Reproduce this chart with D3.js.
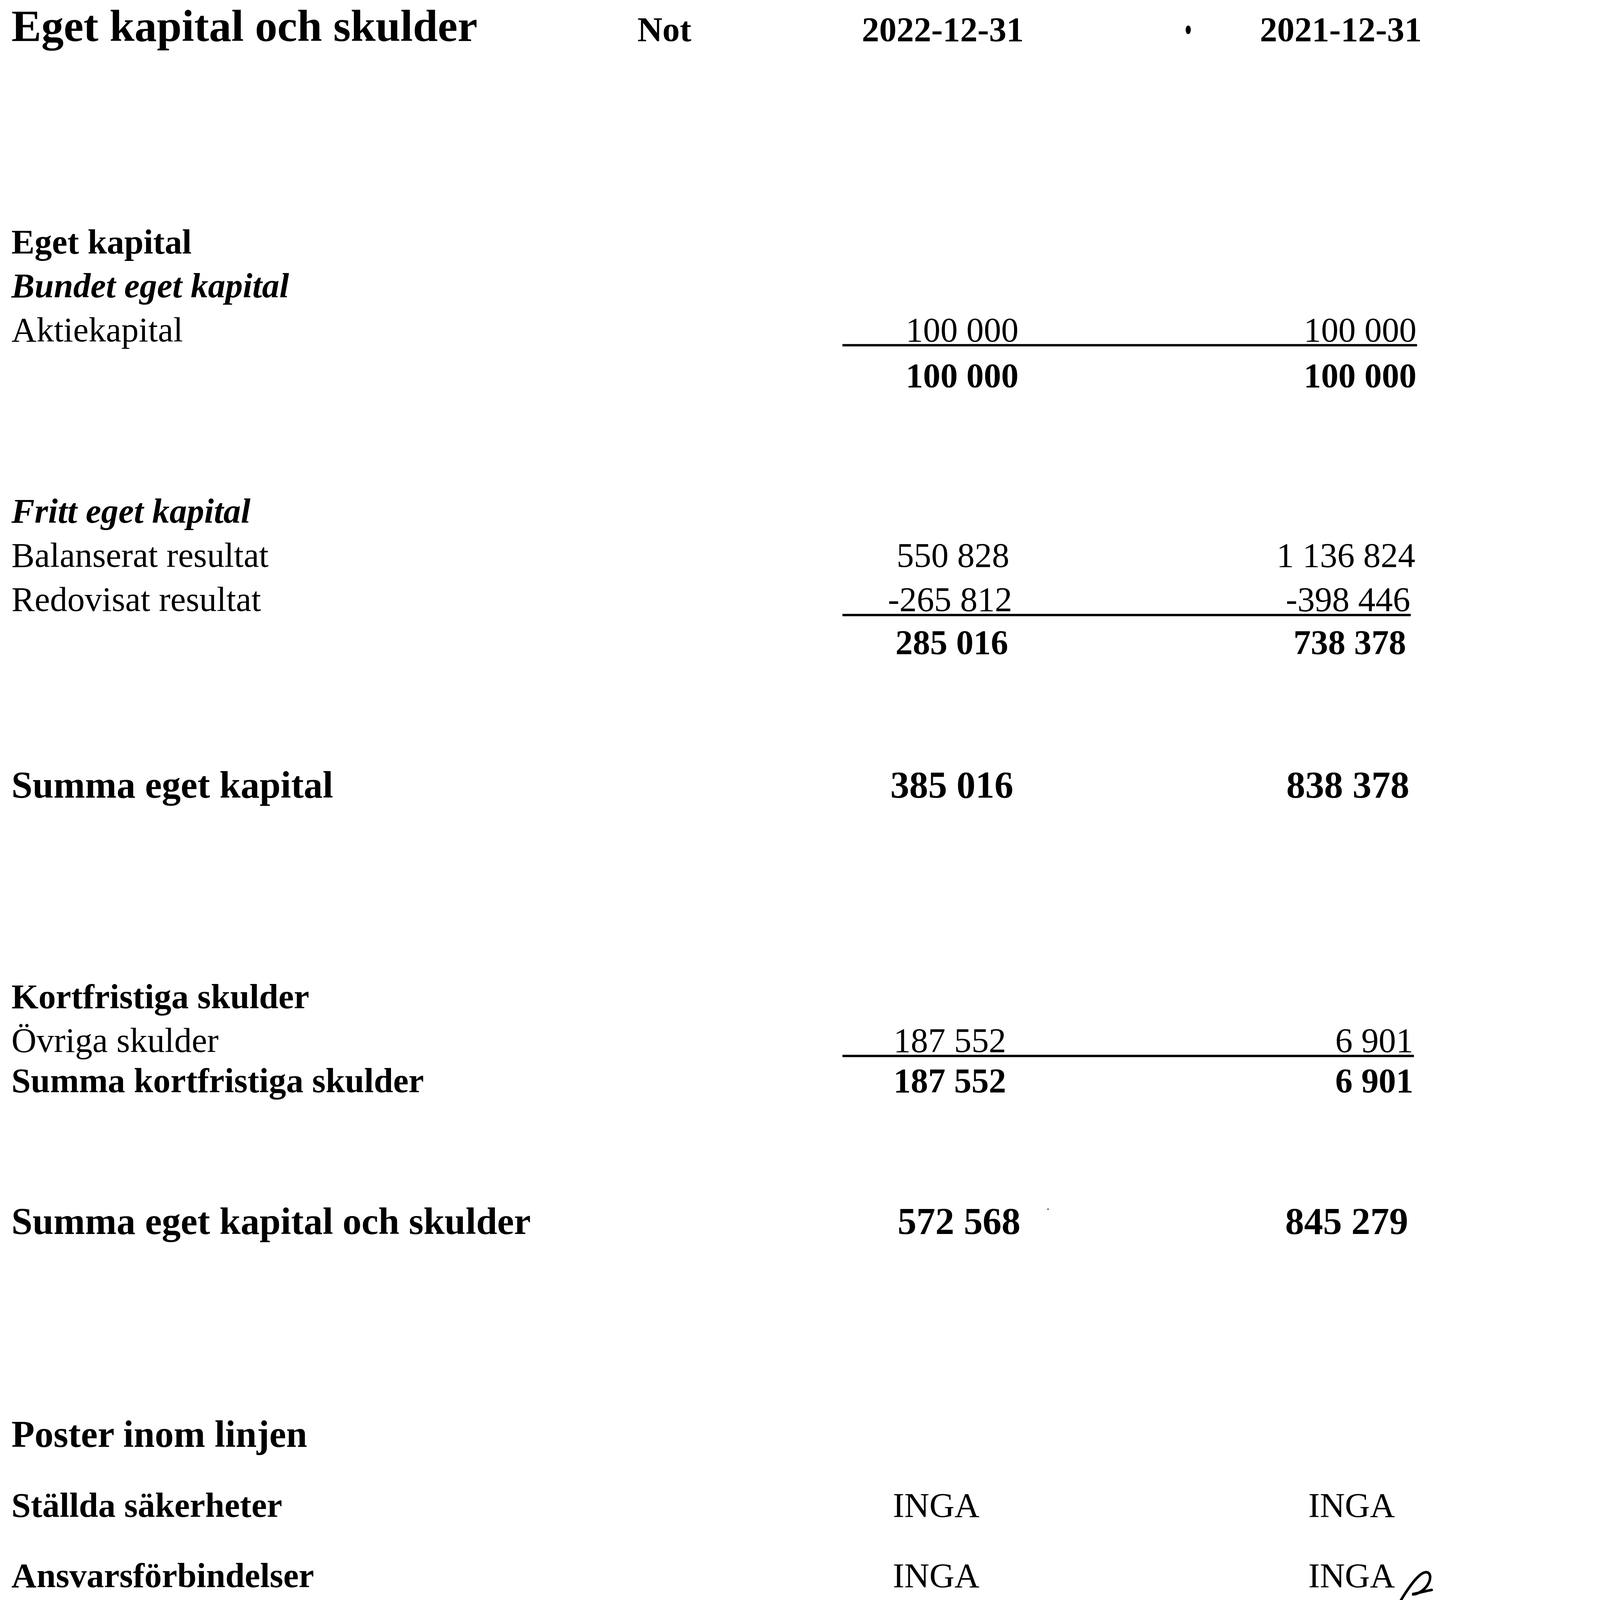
<!DOCTYPE html>
<html>
<head>
<meta charset="utf-8">
<script src="https://cdn.jsdelivr.net/npm/d3@7"></script>
<style>
html, body { margin: 0; padding: 0; background: #fff; overflow: hidden; }
svg { display: block; }
text { font-family: "Liberation Serif", "Times New Roman", serif; fill: #000; }
</style>
</head>
<body>
<script>
var width = 4995;
var height = 5580;

// table content
var title = "Eget kapital och skulder";
var headers = ["Not", "2022-12-31", "2021-12-31"];
var labels = ["Eget kapital", "Bundet eget kapital", "Aktiekapital", "",
    "Fritt eget kapital", "Balanserat resultat", "Redovisat resultat", "",
    "Summa eget kapital", "Kortfristiga skulder", "Övriga skulder",
    "Summa kortfristiga skulder", "Summa eget kapital och skulder",
    "Poster inom linjen", "Ställda säkerheter", "Ansvarsförbindelser"];
var values2022 = [null, null, 100000, 100000, null, 550828, -265812, 285016,
    385016, null, 187552, 187552, 572568, null, "INGA", "INGA"];
var values2021 = [null, null, 100000, 100000, null, 1136824, -398446, 738378,
    838378, null, 6901, 6901, 845279, null, "INGA", "INGA"];
var rowKind = ["head", "sub", "item", "sum", "sub", "item", "item", "sum",
    "total", "head", "item", "sum", "total", "total", "note", "note"];

// layout: vertical slot of each row (in text lines), and the scan's
// small sideways drift of the number columns (page px)
var rowSlot = [0, 1, 2, 3.05, 6.14, 7.14, 8.15, 9.13, 12.4, 17.2, 18.2, 19.12,
    22.35, 27.2, 28.8, 30.4];
var drift2022 = [0, 0, 22, 22, 0, -10, 0, -14, 4, 0, -21, -21, 29, 0, 0, 0];
var drift2021 = [0, 0, 20, 20, 0, 16, -2, -16, -5, 0, 9, 9, -9, 0, 0, 0];

var sv = d3.formatLocale({decimal: ",", thousands: "\u00a0", grouping: [3], currency: ["", ""], minus: "-"});
var fmt = sv.format(",d");

// fit the page into whatever window we get
var vw = window.innerWidth || width, vh = window.innerHeight || height;
var svg = d3.select("body").append("svg")
    .attr("width", vw)
    .attr("height", vh)
    .attr("viewBox", "0 0 " + width + " " + height)
    .attr("preserveAspectRatio", "xMinYMin meet")
    .style("background", "#fff");

var y = d3.scaleLinear().domain([0, 1]).range([884, 1037]);
var xHead = d3.scaleOrdinal().domain(headers).range([2317, 3288, 4676]);
var xVal = d3.scaleOrdinal().domain(["y2022", "y2021"]).range([3530, 4920]);
var xNote = d3.scaleOrdinal().domain(["y2022", "y2021"]).range([3416, 4865]);
var xLabel = 40;

var sizeOf = function (k) {
    if (k == "total") return "132px";
    return "121px";
};

// title + header
svg.append("text")
    .attr("x", xLabel)
    .attr("y", 143)
    .style("font-size", "156px")
    .style("font-weight", "bold")
    .text(title);

svg.selectAll(".hdr")
    .data(headers)
    .enter().append("text")
    .attr("class", "hdr")
    .attr("x", function (d) { return xHead(d); })
    .attr("y", 143)
    .attr("text-anchor", "middle")
    .style("font-size", "121px")
    .style("font-weight", "bold")
    .text(function (d) { return d; });

// stray scan dots
svg.append("ellipse").attr("cx", 4144).attr("cy", 104).attr("rx", 9).attr("ry", 15).attr("fill", "#000");
svg.append("circle").attr("cx", 3655).attr("cy", 4217).attr("r", 3).attr("fill", "#666");

var rows = labels.map(function (l, i) {
    return {label: l, kind: rowKind[i], slot: rowSlot[i],
        y2022: values2022[i], y2021: values2021[i],
        d2022: drift2022[i], d2021: drift2021[i]};
});

var rightEdge = function (d, col) {
    return d.kind == "note" ? xNote(col) : xVal(col) + (col == "y2022" ? d.d2022 : d.d2021);
};

// row labels
svg.selectAll(".lbl")
    .data(rows)
    .enter().append("text")
    .attr("class", "lbl")
    .attr("x", xLabel)
    .attr("y", function (d) { return y(d.slot); })
    .style("font-size", function (d) { return sizeOf(d.kind); })
    .style("font-weight", function (d) { return d.kind == "item" ? "normal" : "bold"; })
    .style("font-style", function (d) { return d.kind == "sub" ? "italic" : "normal"; })
    .text(function (d) { return d.label; });

// values
["y2022", "y2021"].forEach(function (col) {
    svg.selectAll(".val-" + col)
        .data(rows.filter(function (d) { return d[col] != null; }))
        .enter().append("text")
        .attr("class", "val-" + col)
        .attr("x", function (d) { return rightEdge(d, col); })
        .attr("y", function (d) { return y(d.slot); })
        .attr("text-anchor", "end")
        .style("font-size", function (d) { return sizeOf(d.kind); })
        .style("font-weight", function (d) { return (d.kind == "item" || d.kind == "note") ? "normal" : "bold"; })
        .text(function (d) { return typeof d[col] == "number" ? fmt(d[col]) : d[col]; });
});

// underlines below the last item before each sum
var lineRows = rows.filter(function (d, i) {
    return d.kind == "item" && rows[i + 1] && rows[i + 1].kind == "sum";
});
svg.selectAll(".uline")
    .data(lineRows)
    .enter().append("line")
    .attr("class", "uline")
    .attr("x1", xVal("y2022") - 592)
    .attr("x2", function (d) { return rightEdge(d, "y2021") + 2; })
    .attr("y1", function (d) { return y(d.slot) + 14; })
    .attr("y2", function (d) { return y(d.slot) + 14; })
    .attr("stroke", "#000")
    .attr("stroke-width", 8);

// initials in the corner
var p = d3.path();
p.moveTo(4885, 5582);
p.bezierCurveTo(4910, 5540, 4945, 5490, 4968, 5484);
p.bezierCurveTo(4990, 5478, 4994, 5505, 4977, 5530);
p.bezierCurveTo(4962, 5550, 4940, 5562, 4925, 5560);
p.bezierCurveTo(4945, 5556, 4970, 5549, 4993, 5545);
svg.append("path")
    .attr("d", p.toString())
    .attr("fill", "none")
    .attr("stroke", "#000")
    .attr("stroke-width", 9)
    .attr("stroke-linecap", "round");
</script>
</body>
</html>
